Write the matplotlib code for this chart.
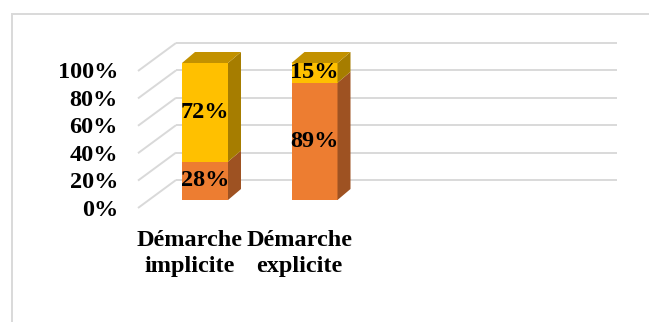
import numpy as np
import matplotlib.pyplot as plt
from matplotlib.patches import Polygon, Rectangle

# --- data -------------------------------------------------------------
categories = ["Démarche\nimplicite", "Démarche\nexplicite"]
lower_share = [28, 89]     # orange segment
upper_share = [72, 15]     # yellow segment
y_ticks = [0, 20, 40, 60, 80, 100]

# --- style ------------------------------------------------------------
ORANGE, ORANGE_SIDE, ORANGE_TOP = "#ED7D31", "#9E5222", "#B85F25"
YELLOW, YELLOW_SIDE, YELLOW_TOP = "#FFC000", "#A67D00", "#C29100"
GRID = "#D9D9D9"
FONT = dict(family="Liberation Serif", weight="bold", color="black")
FS = 17.5

W, H = 649, 322
# pixel layout of the front plane of the bars
X0_PX, Y0_PX = 205, 200      # centre of first bar / baseline
PX_PER_CAT, PX_PER_PCT = 109.5, 1.37

fig = plt.figure(figsize=(W / 100, H / 100), dpi=100)
ax = fig.add_axes([0, 0, 1, 1])
ax.set_xlim(-X0_PX / PX_PER_CAT, (W - X0_PX) / PX_PER_CAT)
ax.set_ylim((Y0_PX - H) / PX_PER_PCT, Y0_PX / PX_PER_PCT)
ax.axis("off")


def cx(px):
    return (px - X0_PX) / PX_PER_CAT


def cy(px):
    return px / PX_PER_PCT


# 3d offsets (data units)
half_w = cx(X0_PX + 23)
bar_dx, bar_dy = cx(X0_PX + 13), cy(11)
wall_front_x, wall_front_dy = cx(138), cy(-8)
wall_back_x, wall_back_dy = cx(176), cy(20)
wall_right_x = cx(617)

# gridlines: side wall and back wall
for v in y_ticks:
    ax.plot([wall_front_x, wall_back_x], [v + wall_front_dy, v + wall_back_dy],
            color=GRID, lw=1.4, zorder=1, solid_capstyle="butt")
    ax.plot([wall_back_x, wall_right_x], [v + wall_back_dy, v + wall_back_dy],
            color=GRID, lw=1.4, zorder=1, solid_capstyle="butt")
    ax.text(cx(118), v + wall_front_dy - cy(2), f"{v}%", ha="right",
            va="center", fontsize=FS, **FONT)


def box(x, y0, y1, face, side, top, draw_top):
    xl, xr = x - half_w, x + half_w
    ax.add_patch(Polygon([(xl, y0), (xr, y0), (xr, y1), (xl, y1)],
                         closed=True, fc=face, ec="none", zorder=3))
    ax.add_patch(Polygon([(xr, y0), (xr + bar_dx, y0 + bar_dy),
                          (xr + bar_dx, y1 + bar_dy), (xr, y1)],
                         closed=True, fc=side, ec="none", zorder=3))
    if draw_top:
        ax.add_patch(Polygon([(xl, y1), (xr, y1), (xr + bar_dx, y1 + bar_dy),
                              (xl + bar_dx, y1 + bar_dy)],
                             closed=True, fc=top, ec="none", zorder=3))


# 100% stacked columns
for i, (lo, up) in enumerate(zip(lower_share, upper_share)):
    total = lo + up
    lo_pct = 100 * lo / total
    box(i, 0, lo_pct, ORANGE, ORANGE_SIDE, ORANGE_TOP, False)
    box(i, lo_pct, 100, YELLOW, YELLOW_SIDE, YELLOW_TOP, True)
    ax.text(i, lo_pct / 2, f"{lo}%", ha="center", va="center",
            fontsize=FS, zorder=5, **FONT)
    ax.text(i, (lo_pct + 100) / 2, f"{up}%", ha="center", va="center",
            fontsize=FS, zorder=5, **FONT)

# category labels
for i, name in enumerate(categories):
    ax.text(i - 0.14, cy(-30), name, ha="center", va="top",
            fontsize=FS, linespacing=1.3, **FONT)

# chart area border
fig.patches.append(Rectangle((12 / W, -0.1), 1.2, 1.1 - 14 / H,
                             transform=fig.transFigure, fill=False,
                             ec=GRID, lw=1.4))

fig.savefig("out.png", dpi=100)
